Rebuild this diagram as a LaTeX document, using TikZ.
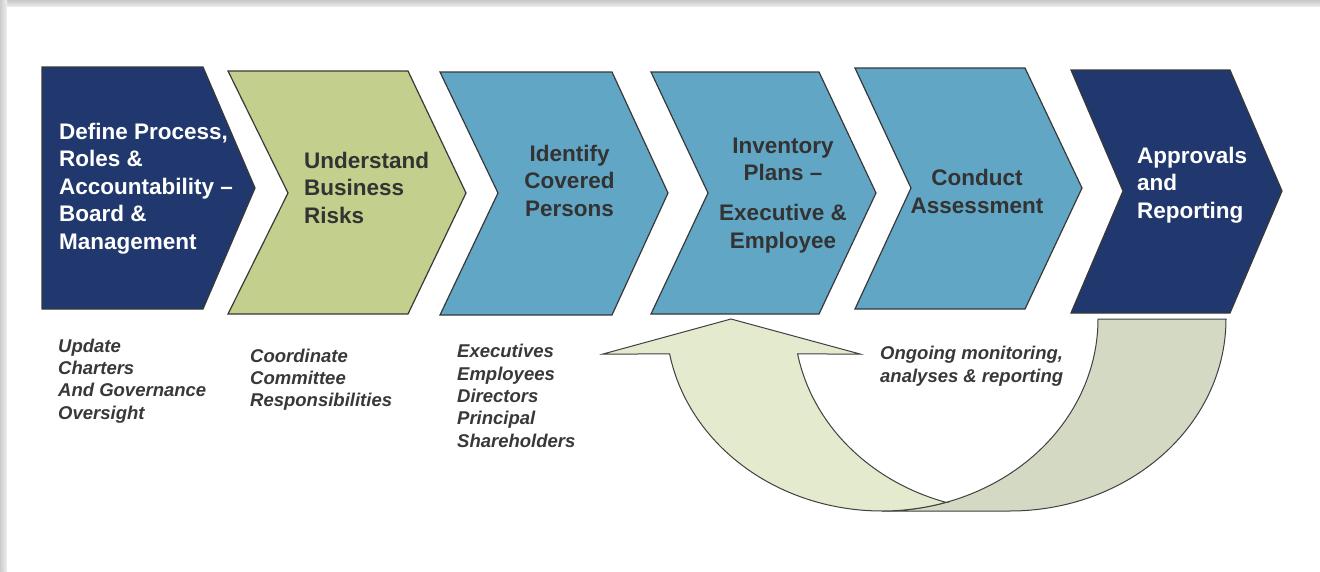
\documentclass[tikz,border=0pt]{standalone}
\usepackage{fontspec}
\setmainfont{Liberation Sans}
\definecolor{navy}{HTML}{21386F}
\definecolor{sage}{HTML}{C2CF8D}
\definecolor{steel}{HTML}{62A6C5}
\definecolor{edgegray}{HTML}{383838}
\definecolor{inkgray}{HTML}{333333}
\definecolor{notegray}{HTML}{383838}
\definecolor{arrowlight}{HTML}{E3EACD}
\definecolor{arrowdark}{HTML}{D3D9C2}
\definecolor{arrowedge}{HTML}{404040}
\begin{document}
\begin{tikzpicture}[x=1pt,y=-1pt,
  chev/.style={draw=edgegray, line width=1.2pt, line join=miter},
  stagetext/.style={font=\bfseries\fontsize{22.5}{27.5}\selectfont, inner sep=0pt},
  darktext/.style={stagetext, text=inkgray},
  lighttext/.style={stagetext, text=white},
  note/.style={font=\bfseries\itshape\fontsize{18.5}{22.3}\selectfont, text=notegray,
    inner sep=0pt, align=left, anchor=base west},
  band/.style={draw=arrowedge, line width=1pt, line join=miter},
]
\useasboundingbox (0,0) rectangle (1320,571);

% card with soft shadow along the top and left edges
\fill[white] (0,0) rectangle (1320,571);
\shade[top color=black!22, bottom color=black!6] (0,0) rectangle (1320,7);
\shade[left color=black!20, right color=black!6] (0,0) rectangle (7,571);
\fill[white] (7,7) rectangle (1320,571);

% process chevrons
\path[chev, fill=navy]  (42,67) -- (203,67) -- (255,188) -- (203,309) -- (42,309) -- cycle;
\path[chev, fill=sage]  (228,71) -- (408,71) -- (466,193) -- (408,314) -- (228,314) -- (288,193) -- cycle;
\path[chev, fill=steel] (440,72) -- (612,72) -- (668,193) -- (612,315) -- (440,315) -- (498,193) -- cycle;
\path[chev, fill=steel] (651,72) -- (819,72) -- (876,193) -- (819,314) -- (651,314) -- (708,193) -- cycle;
\path[chev, fill=steel] (855,68) -- (1025,68) -- (1082,188) -- (1025,309) -- (855,309) -- (911,188) -- cycle;
\path[chev, fill=navy]  (1071,70) -- (1230,70) -- (1282,191) -- (1230,313) -- (1071,313) -- (1123,191) -- cycle;

% stage titles (each node sits on the baseline of its last line)
\node[lighttext, align=left, anchor=base west] (define) at (59,249)
  {Define Process,\\Roles \&\\Accountability –\\Board \&\\Management};
\node[darktext, align=left, anchor=base west] (risks) at (304,223)
  {Understand\\Business\\Risks};
\node[darktext, align=center, anchor=base] (identify) at (569.5,216)
  {Identify\\Covered\\Persons};
\node[darktext, align=center, anchor=base] (inventory) at (783,248)
  {Inventory\\Plans –\\[12.5pt]Executive \&\\Employee};
\node[darktext, align=center, anchor=base] (assess) at (977,213)
  {Conduct\\Assessment};
\node[lighttext, align=left, anchor=base west] (approve) at (1137,218)
  {Approvals\\and\\Reporting};

% feedback loop: back band first, then the front band with its arrow head
\path[band, fill=arrowdark]
  (1098,319) -- (1226,319)
  -- plot[domain=0:90, samples=60] ({1010+216*cos(\x)},{319+192*sin(\x)})
  -- plot[domain=90:0, samples=60] ({882+216*cos(\x)},{319+192*sin(\x)})
  -- cycle;
\path[band, fill=arrowlight]
  (731,319) -- (860,354)
  -- plot[domain=169.5:107.2, samples=60] ({1010+216*cos(\x)},{319+192*sin(\x)})
  -- plot[domain=72.8:169.5, samples=80] ({882+216*cos(\x)},{319+192*sin(\x)})
  -- (603,354) -- cycle;

% notes under the stages
\node[note] (charters) at (58,419)
  {Update\\Charters\\And Governance\\Oversight};
\node[note] (committee) at (250,406.6)
  {Coordinate\\Committee\\Responsibilities};
\node[note] (persons) at (457,447)
  {Executives\\Employees\\Directors\\Principal\\Shareholders};
\node[note] (monitor) at (880,382)
  {Ongoing monitoring,\\analyses \& reporting};
\end{tikzpicture}
\end{document}
